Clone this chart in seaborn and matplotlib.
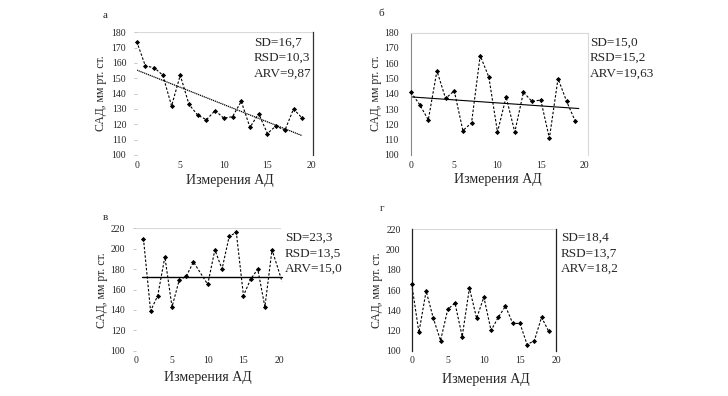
import numpy as np
import pandas as pd
import matplotlib
matplotlib.use("Agg")
import matplotlib.pyplot as plt
import seaborn as sns

# ---------------- data ----------------
a_x = list(range(20))
a_y = [174, 158, 157, 152, 132, 152, 133, 126, 123, 129, 124, 125, 135, 118, 127, 114, 119, 116, 130, 124]
a_trend_x = [0, 19]
a_trend_y = [155.4, 112.6]

b_x = list(range(20))
b_y = [141, 133, 123, 155, 137, 142, 116, 121, 165, 151, 115, 138, 115, 141, 135, 136, 111, 150, 135, 122]
b_trend_x = [0, 19.4]
b_trend_y = [138.0, 130.4]

c_x = [1, 2, 3, 4, 5, 6, 7, 8, 10, 11, 12, 13, 14, 15, 16, 17, 18, 19]
c_y = [210, 139, 154, 192, 143, 169, 173, 187, 165, 199, 180, 212, 216, 154, 170, 180, 143, 199]
c_end_x = [20.4]
c_end_y = [168]
c_trend_x = [0.8, 20.4]
c_trend_y = [172.6, 172.6]

d_x = list(range(20))
d_y = [166, 118, 159, 132, 110, 141, 147, 114, 162, 132, 153, 120, 133, 144, 127, 127, 106, 110, 133, 119]

stats = {
    "a": ["SD=16,7", "RSD=10,3", "ARV=9,87"],
    "b": ["SD=15,0", "RSD=15,2", "ARV=19,63"],
    "c": ["SD=23,3", "RSD=13,5", "ARV=15,0"],
    "d": ["SD=18,4", "RSD=13,7", "ARV=18,2"],
}
letters = {"a": "а", "b": "б", "c": "в", "d": "г"}
ylabel = "САД, мм рт. ст."
xlabel = "Измерения АД"

a_yticks = [100, 110, 120, 130, 140, 150, 160, 170, 180]
c_yticks = [100, 120, 140, 160, 180, 200, 220]
xticks = [0, 5, 10, 15, 20]

# ---------------- style ----------------
sns.set_style("white")
plt.rcParams["font.family"] = ["Liberation Serif", "DejaVu Serif"]

W, H = 728, 396
fig = plt.figure(figsize=(W / 100, H / 100), dpi=100)


def px_axes(x0, x1, ytop, ybot):
    return fig.add_axes([x0 / W, 1 - ybot / H, (x1 - x0) / W, (ybot - ytop) / H])


def series(ax, xs, ys, ex=None, ey=None):
    lx = list(xs) + (ex or [])
    ly = list(ys) + (ey or [])
    df = pd.DataFrame({"x": lx, "y": ly})
    sns.lineplot(data=df, x="x", y="y", ax=ax, color="black", lw=0.8,
                 linestyle=(0, (2.2, 1.6)), sort=False, clip_on=False)
    dm = pd.DataFrame({"x": xs, "y": ys})
    sns.scatterplot(data=dm, x="x", y="y", ax=ax, color="black", marker="D",
                    s=7, linewidth=0, clip_on=False, zorder=5)
    ax.set_xlabel("")
    ax.set_ylabel("")


def common(ax, ylim, yticks, xlim, ypad, tick_len=0):
    ax.set_xlim(*xlim)
    ax.set_ylim(*ylim)
    ax.set_yticks(yticks)
    ax.set_xticks(xticks)
    ax.tick_params(axis="y", labelsize=7, length=tick_len, width=0.6,
                   color="#bbbbbb", pad=ypad, left=True)
    ax.tick_params(axis="x", labelsize=7, length=0, pad=4, bottom=True)
    for s in ax.spines.values():
        s.set_visible(False)
    ax.patch.set_alpha(0)


# ---- panel а ----
ax = px_axes(136.7, 312.7, 32.3, 155)
series(ax, a_x, a_y)
common(ax, (100, 180), a_yticks, (0, 20.2), 5.5, tick_len=2)
ax.axhline(180, color="#d9d9d9", lw=0.8)
ax.spines["right"].set_visible(True)
ax.spines["right"].set_color("#333333")
ax.spines["right"].set_linewidth(0.9)
ax.plot(a_trend_x, a_trend_y, color="black", lw=0.9, linestyle=(0, (1, 0.6)))

# ---- panel б ----
ax = px_axes(411, 588.3, 32.7, 155)
series(ax, b_x, b_y)
common(ax, (100, 180), a_yticks, (0, 20.5), 9)
for side in ["top", "right"]:
    ax.spines[side].set_visible(True)
    ax.spines[side].set_color("#d9d9d9")
    ax.spines[side].set_linewidth(0.8)
ax.spines["left"].set_visible(True)
ax.spines["left"].set_color("#888888")
ax.spines["left"].set_linewidth(0.8)
ax.plot(b_trend_x, b_trend_y, color="black", lw=0.8)

# ---- panel в ----
ax = px_axes(136.3, 280.6, 228.3, 350.7)
series(ax, c_x, c_y, c_end_x, c_end_y)
common(ax, (100, 220), c_yticks, (0, 20.2), 6, tick_len=2)
ax.axhline(220, color="#d9d9d9", lw=0.8)
ax.plot(c_trend_x, c_trend_y, color="black", lw=1.0, clip_on=False)

# ---- panel г ----
ax = px_axes(411.7, 556, 229.3, 350.7)
series(ax, d_x, d_y)
common(ax, (100, 220), c_yticks, (0, 20), 8)
ax.axhline(220, color="#d9d9d9", lw=0.8)
for side in ["left", "right"]:
    ax.spines[side].set_visible(True)
    ax.spines[side].set_color("#222222")
    ax.spines[side].set_linewidth(0.9)

# ---------------- texts ----------------
def ftext(x, y, s, **kw):
    fig.text(x / W, 1 - y / H, s, **kw)


for key, (tx, ty0) in {"a": (254, 42.5), "b": (590, 42.5),
                       "c": (285, 238), "d": (561, 238)}.items():
    for i, line in enumerate(stats[key]):
        ftext(tx, ty0 + i * 15.5, line, fontsize=9.5, ha="left", va="center")

for key, (lx, ly) in {"a": (105, 15), "b": (381, 13), "c": (105, 217), "d": (382, 208)}.items():
    ftext(lx, ly, letters[key], fontsize=8, ha="center", va="center")

for (x, y) in [(101, 93), (376, 93), (102, 290), (377, 290)]:
    ftext(x, y, ylabel, fontsize=8.5, rotation=90, ha="center", va="center")

for (x, y) in [(230, 180), (498, 179), (208, 378), (486, 379)]:
    ftext(x, y, xlabel, fontsize=10, ha="center", va="center")

fig.savefig("out.png", dpi=100)
